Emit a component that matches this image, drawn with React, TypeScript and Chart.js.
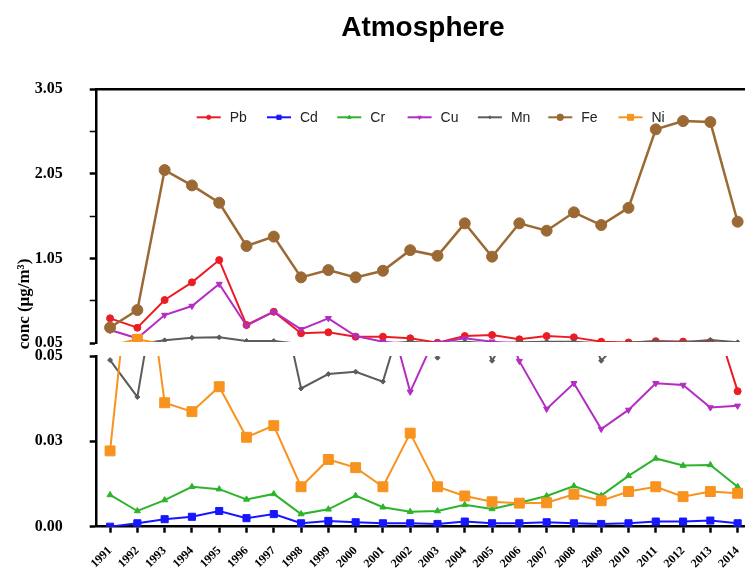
import React, { useEffect, useRef } from "react";
import { Chart, registerables } from "chart.js";

Chart.register(...registerables);

// ---------- data ----------
const YEARS = [1991, 1992, 1993, 1994, 1995, 1996, 1997, 1998, 1999, 2000, 2001, 2002, 2003, 2004, 2005, 2006, 2007, 2008, 2009, 2010, 2011, 2012, 2013, 2014];

const PB = [0.345, 0.234, 0.561, 0.77, 1.033, 0.266, 0.423, 0.168, 0.18, 0.128, 0.128, 0.109, 0.057, 0.136, 0.148, 0.097, 0.136, 0.12, 0.069, 0.06, 0.075, 0.07, 0.065, 0.0397];
const CD = [0.0, 0.001, 0.0022, 0.0029, 0.0046, 0.0025, 0.0037, 0.001, 0.0017, 0.0013, 0.001, 0.001, 0.0008, 0.0015, 0.001, 0.001, 0.0013, 0.001, 0.0008, 0.001, 0.0015, 0.0015, 0.0018, 0.001];
const CR = [0.0093, 0.0046, 0.0078, 0.0117, 0.011, 0.008, 0.0096, 0.0037, 0.0051, 0.0091, 0.0057, 0.0044, 0.0046, 0.0064, 0.0052, 0.007, 0.009, 0.0119, 0.0091, 0.0149, 0.02, 0.0179, 0.0181, 0.0117];
const CU = [0.207, 0.109, 0.384, 0.49, 0.75, 0.258, 0.423, 0.215, 0.345, 0.136, 0.069, 0.0395, 0.057, 0.109, 0.069, 0.0485, 0.0345, 0.042, 0.0286, 0.0342, 0.042, 0.0415, 0.0349, 0.0354];
const MN = [0.0488, 0.038, 0.085, 0.116, 0.12, 0.077, 0.077, 0.0405, 0.0447, 0.0454, 0.0425, 0.069, 0.0495, 0.069, 0.0486, 0.062, 0.069, 0.069, 0.0486, 0.057, 0.075, 0.062, 0.089, 0.062];
const FE = [0.236, 0.443, 2.096, 1.915, 1.71, 1.199, 1.31, 0.829, 0.915, 0.829, 0.907, 1.15, 1.084, 1.467, 1.073, 1.467, 1.38, 1.597, 1.447, 1.65, 2.577, 2.675, 2.663, 1.486];
const NI = [0.0222, 0.097, 0.0363, 0.0337, 0.041, 0.0262, 0.0296, 0.0117, 0.0197, 0.0173, 0.0117, 0.0274, 0.0117, 0.009, 0.0073, 0.0069, 0.007, 0.0095, 0.0076, 0.0103, 0.0117, 0.0088, 0.0103, 0.0098];

const SERIES_NAMES = ["Pb", "Cd", "Cr", "Cu", "Mn", "Fe", "Ni"];
const SERIES_VALUES = [PB, CD, CR, CU, MN, FE, NI];

const TOP_TICKS = [0.05, 0.55, 1.05, 1.55, 2.05, 2.55, 3.05];
const TOP_TICK_LABELS = ["0.05", "", "1.05", "", "2.05", "", "3.05"];
const BOT_TICKS = [0, 0.025, 0.05];
const BOT_TICK_LABELS = ["0.00", "0.03", "0.05"];

const TOP_RANGE = [0.05, 3.05];
const BOT_RANGE = [0, 0.05];

const TITLE = "Atmosphere";
const Y_TITLE = "conc (\u03bcg/m\u00b3)";

// ---------- styles ----------
type Style = { color: string; point: string; r: number; rot: number; w: number };
const STYLES: Record<string, Style> = {
  Pb: { color: "#ec1c24", point: "circle", r: 3.5, rot: 0, w: 2 },
  Cd: { color: "#1616ff", point: "rect", r: 5, rot: 0, w: 2 },
  Cr: { color: "#2db42d", point: "triangle", r: 3.5, rot: 0, w: 2 },
  Cu: { color: "#b42dc3", point: "triangle", r: 3.5, rot: 180, w: 2 },
  Mn: { color: "#5c5c5c", point: "rectRot", r: 2.5, rot: 0, w: 2 },
  Fe: { color: "#9b6a34", point: "circle", r: 5.5, rot: 0, w: 2.5 },
  Ni: { color: "#f7931e", point: "rect", r: 7, rot: 0, w: 2 },
};

const SERIF = '"Liberation Serif", "Times New Roman", serif';
const SANS = '"Liberation Sans", Arial, sans-serif';

function drawMarker(ctx: CanvasRenderingContext2D, s: Style, x: number, y: number, scale: number) {
  const r = s.r * scale;
  ctx.save();
  ctx.fillStyle = s.color;
  ctx.strokeStyle = s.color;
  ctx.lineWidth = 1;
  ctx.translate(x, y);
  ctx.rotate((s.rot * Math.PI) / 180);
  ctx.beginPath();
  if (s.point === "circle") {
    ctx.arc(0, 0, r, 0, Math.PI * 2);
  } else if (s.point === "rect") {
    const h = r * Math.SQRT1_2;
    ctx.rect(-h, -h, 2 * h, 2 * h);
  } else if (s.point === "rectRot") {
    ctx.moveTo(0, -r);
    ctx.lineTo(r, 0);
    ctx.lineTo(0, r);
    ctx.lineTo(-r, 0);
    ctx.closePath();
  } else if (s.point === "triangle") {
    ctx.moveTo(0, -r);
    ctx.lineTo(r * 0.866, r * 0.5);
    ctx.lineTo(-r * 0.866, r * 0.5);
    ctx.closePath();
  }
  ctx.fill();
  ctx.stroke();
  ctx.restore();
}

const legendPlugin = {
  id: "customLegend",
  afterDraw(chart: any) {
    const ctx: CanvasRenderingContext2D = chart.ctx;
    const area = chart.chartArea;
    const startX = area.left + 100;
    const y = area.top + 28;
    const pitch = 70.3;
    ctx.save();
    ctx.font = `14px ${SANS}`;
    ctx.textBaseline = "middle";
    ctx.textAlign = "left";
    SERIES_NAMES.forEach((name, i) => {
      const s = STYLES[name];
      const x0 = startX + i * pitch;
      ctx.strokeStyle = s.color;
      ctx.lineWidth = 2;
      ctx.beginPath();
      ctx.moveTo(x0, y);
      ctx.lineTo(x0 + 24, y);
      ctx.stroke();
      drawMarker(ctx, s, x0 + 12, y, 0.6);
      ctx.fillStyle = "#222";
      ctx.fillText(name, x0 + 33, y + 1);
    });
    ctx.restore();
  },
};

const textPlugin = {
  id: "texts",
  afterDraw(chart: any) {
    const ctx: CanvasRenderingContext2D = chart.ctx;
    const area = chart.chartArea;
    ctx.save();
    // chart title
    ctx.font = `bold 28px ${SANS}`;
    ctx.fillStyle = "#000";
    ctx.textAlign = "center";
    ctx.textBaseline = "middle";
    ctx.fillText(TITLE, (area.left + area.right) / 2 + 2, 28);
    // y-axis title
    ctx.translate(25, 304);
    ctx.rotate(-Math.PI / 2);
    ctx.font = `bold 17px ${SERIF}`;
    ctx.fillText(Y_TITLE, 0, 0);
    ctx.restore();
  },
};

const LEFT_W = 96.7;

export default function App() {
  const ref = useRef<HTMLCanvasElement | null>(null);

  useEffect(() => {
    if (!ref.current) return;
    const datasets: any[] = [];
    SERIES_NAMES.forEach((name, si) => {
      const s = STYLES[name];
      const vals = SERIES_VALUES[si];
      ["yTop", "yBot"].forEach((axis) => {
        const range = axis === "yTop" ? TOP_RANGE : BOT_RANGE;
        const visible = (c: any) => {
          if (c.type !== "data" || !c.raw) return true;
          const v = c.raw.y;
          return v >= range[0] - 1e-9 && v <= range[1] + 1e-9;
        };
        datasets.push({
          label: name,
          data: YEARS.map((yr, i) => ({ x: yr, y: vals[i] })),
          yAxisID: axis,
          xAxisID: "x",
          borderColor: s.color,
          backgroundColor: s.color,
          borderWidth: s.w,
          pointStyle: s.point,
          pointRadius: (c: any) => (visible(c) ? s.r : 0),
          pointRotation: s.rot,
          pointBorderWidth: 1,
          pointBorderColor: s.color,
          pointBackgroundColor: s.color,
          tension: 0,
          order: 100 - si,
          clip: axis === "yTop" ? { left: 0, right: 0, top: 0, bottom: -1.3 } : 0,
        });
      });
    });

    const tickGrid = {
      display: true,
      drawOnChartArea: false,
      drawTicks: true,
      tickLength: 7,
      tickColor: "#000",
      tickWidth: 2.5,
    };

    const chart = new Chart(ref.current, {
      type: "line",
      data: { datasets },
      plugins: [legendPlugin, textPlugin],
      options: {
        animation: false,
        responsive: false,
        devicePixelRatio: 1,
        layout: { autoPadding: false, padding: { top: 89.3, left: 0, right: 0, bottom: 0 } },
        plugins: {
          legend: { display: false },
          tooltip: { enabled: false },
          title: { display: false },
        },
        scales: {
          x: {
            type: "linear",
            position: "bottom",
            min: 1990.51,
            max: 2014.27,
            grid: { ...tickGrid, tickLength: 6 },
            border: { display: true, color: "#000", width: 2.5 },
            ticks: {
              stepSize: 1,
              includeBounds: false,
              autoSkip: false,
              minRotation: 45,
              maxRotation: 45,
              color: "#000",
              padding: 11,
              font: { family: SERIF, size: 12, weight: "bold" },
              callback: (v: any) => String(v),
            },
            afterFit: (s: any) => {
              s.height = 574 - 526.7;
              s.paddingLeft = 0;
              s.paddingRight = 0;
            },
          },
          xTop: {
            type: "linear",
            position: "top",
            min: 1990.51,
            max: 2014.27,
            grid: { display: false },
            ticks: { display: false },
            border: { display: true, color: "#000", width: 2.5 },
            afterFit: (s: any) => {
              s.height = 0;
              s.paddingLeft = 0;
              s.paddingRight = 0;
            },
          },
          yBot: {
            type: "linear",
            position: "left",
            stack: "y",
            stackWeight: 170.7,
            weight: 1,
            min: BOT_RANGE[0],
            max: BOT_RANGE[1],
            grid: tickGrid,
            border: { display: true, color: "#000", width: 2.5 },
            afterBuildTicks: (s: any) => {
              s.ticks = BOT_TICKS.map((v) => ({ value: v }));
            },
            ticks: {
              color: "#000",
              padding: 27,
              font: { family: SERIF, size: 16, weight: "bold" },
              callback: (_v: any, i: number) => BOT_TICK_LABELS[i],
            },
            afterFit: (s: any) => {
              s.width = LEFT_W;
            },
          },
          yGap: {
            type: "linear",
            position: "left",
            stack: "y",
            stackWeight: 12.7,
            weight: 2,
            min: 0,
            max: 1,
            grid: { display: false },
            ticks: { display: false },
            border: { display: false },
            afterFit: (s: any) => {
              s.width = LEFT_W;
            },
          },
          yTop: {
            type: "linear",
            position: "left",
            stack: "y",
            stackWeight: 254,
            weight: 3,
            min: TOP_RANGE[0],
            max: TOP_RANGE[1],
            grid: {
              ...tickGrid,
              tickWidth: (c: any) => (c.index % 2 === 0 ? 2.5 : 1.5),
            },
            border: { display: true, color: "#000", width: 2.5 },
            afterBuildTicks: (s: any) => {
              s.ticks = TOP_TICKS.map((v) => ({ value: v }));
            },
            ticks: {
              color: "#000",
              padding: 27,
              font: { family: SERIF, size: 16, weight: "bold" },
              callback: (_v: any, i: number) => TOP_TICK_LABELS[i],
            },
            afterFit: (s: any) => {
              s.width = LEFT_W;
            },
          },
        },
      } as any,
    });
    return () => chart.destroy();
  }, []);

  return (
    <div style={{ position: "fixed", left: 0, top: 0, width: 745, height: 574, background: "#fff" }}>
      <canvas ref={ref} width={745} height={574} style={{ display: "block" }} />
    </div>
  );
}
